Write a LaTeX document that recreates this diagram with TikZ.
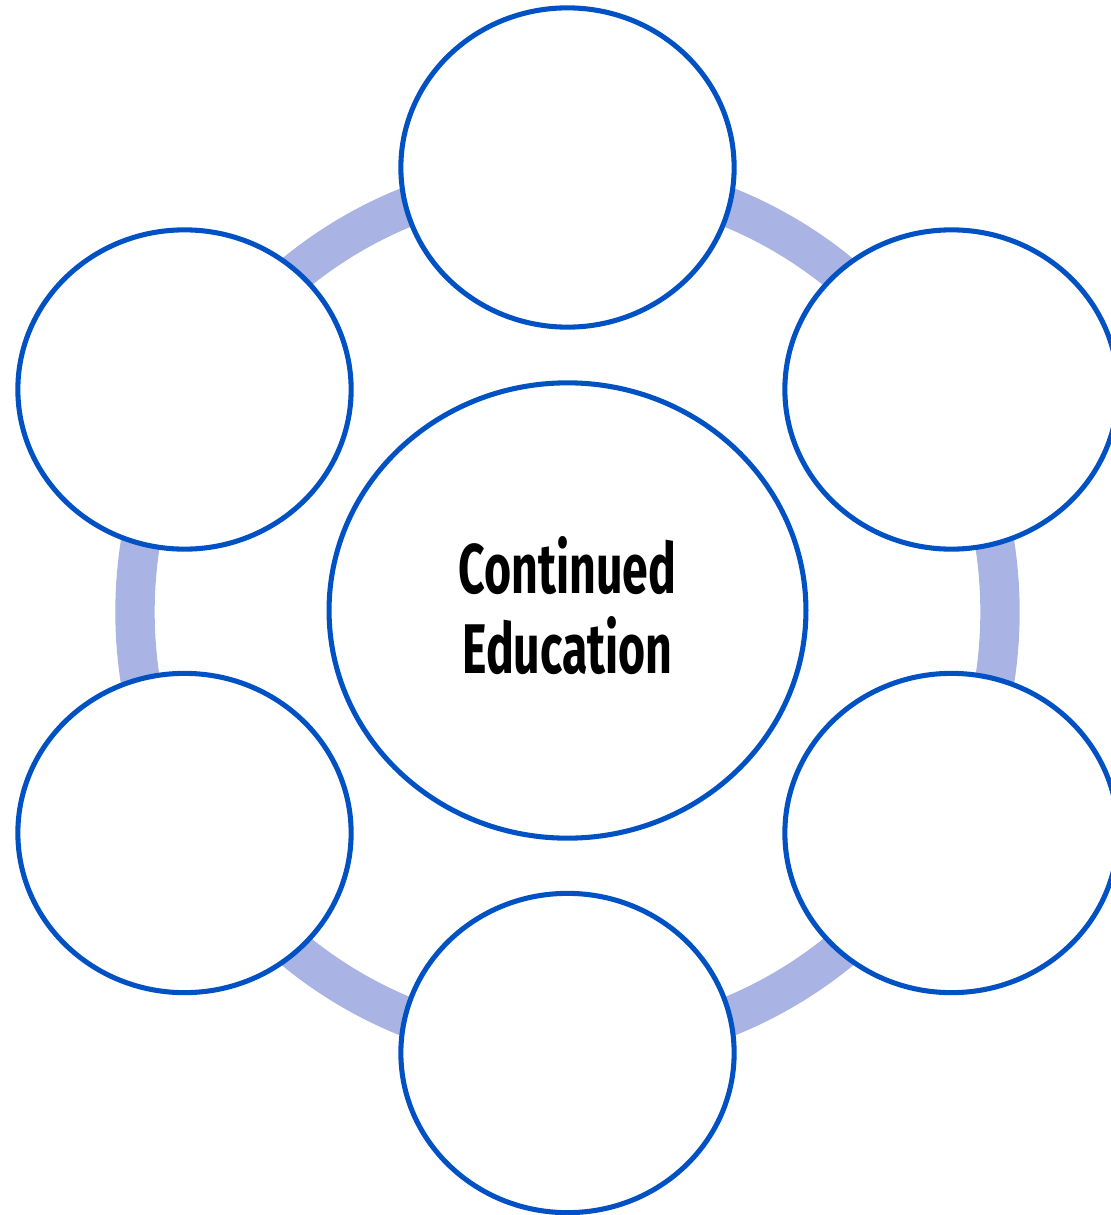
\documentclass[tikz,border=0pt]{standalone}
\usepackage{fontspec}
\setsansfont{Fira Sans}
\usepackage{tikz}
\usetikzlibrary{positioning,shapes.geometric}
\definecolor{rim}{HTML}{0052C4}
\definecolor{ring}{HTML}{AAB4E4}
\newfontfamily\narrowbold[FakeStretch=0.66]{Fira Sans Bold}
\begin{document}
\begin{tikzpicture}[x=0.025cm,y=-0.025cm,
    bubble/.style={draw=rim,line width=3.6pt,fill=white,ellipse,
      minimum width=8.33cm,minimum height=7.98cm,inner sep=0pt},
    hub/.style={bubble,minimum width=11.92cm,minimum height=11.38cm,
      align=center,font=\narrowbold\fontsize{50}{57}\selectfont}]
    \useasboundingbox (0,0) rectangle (1110,1215);

    % the ring behind the bubbles
    \draw[ring,line width=28pt] (567.5,612) ellipse [x radius=432.5,y radius=436];

    \node[hub] (edu) at (567.5,610.5) {};
    \node[font=\narrowbold\fontsize{50}{57}\selectfont,align=center]
      (edutext) at (567.5,606) {Continued\\Education};

    \path
    (567.5,167.5) node[bubble] (top) {}
    (184.5,389.5) node[bubble] (topleft) {}
    (951.5,389.5) node[bubble] (topright) {}
    (184.5,833) node[bubble] (botleft) {}
    (951.5,833) node[bubble] (botright) {}
    (567.5,1053) node[bubble] (bot) {}
    ;
  \end{tikzpicture}
\end{document}
